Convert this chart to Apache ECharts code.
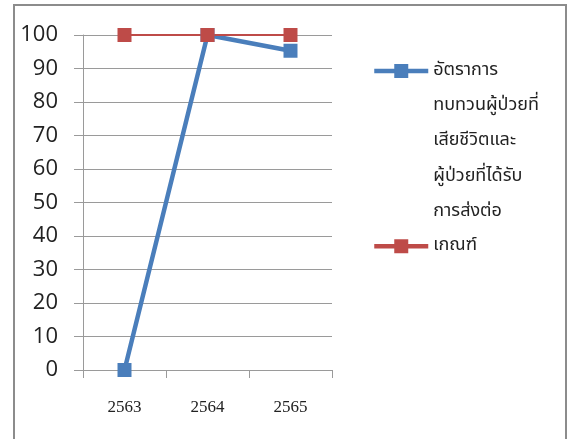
<!DOCTYPE html>
<html>
<head>
<meta charset="utf-8">
<script src="https://cdn.jsdelivr.net/npm/echarts@6/dist/echarts.min.js"></script>
<style>
  html, body { margin: 0; padding: 0; background: #fff; }
  #chart { width: 569px; height: 439px; }
</style>
</head>
<body>
<div id="chart"></div>
<script>
// Years on the category axis
const years = ['2563', '2564', '2565'];
// Review rate of deceased and referred patients (%)
const reviewRate = [0, 100, 95.3];
// Target criterion (%)
const criterion = [100, 100, 100];
// Value axis ticks
const yMin = 0, yMax = 100, yStep = 10;

const rateName = 'อัตราการทบทวนผู้ป่วยที่เสียชีวิตและผู้ป่วยที่ได้รับการส่งต่อ';
const rateLines = ['อัตราการ', 'ทบทวนผู้ป่วยที่', 'เสียชีวิตและ', 'ผู้ป่วยที่ได้รับ', 'การส่งต่อ'];
const critName = 'เกณฑ์';

const blue = '#4a7ebb';
const red = '#be4b48';
const thaiFont = "'Noto Sans Thai', 'Noto Sans', 'DejaVu Sans', sans-serif";
const lineH = 35.4;
const iconH = 17.5;

// The wrapped legend label hangs below its icon: blank lines above keep the
// first line level with the icon, since legend text is centred on it.
const padLines = rateLines.length - 1;
const rateLabel = Array(padLines).fill('\u200b').concat(rateLines).join('\n');

const chart = echarts.init(document.getElementById('chart'));
chart.setOption({
  animation: false,
  backgroundColor: '#fff',
  graphic: [{
    type: 'rect',
    shape: { x: 14, y: 5, width: 552, height: 460 },
    style: { fill: 'none', stroke: '#8c8c8c', lineWidth: 2 },
    silent: true
  }],
  grid: { left: 83, right: 237, top: 35, bottom: 69 },
  legend: [{
    orient: 'vertical',
    left: 372,
    top: 71 - (padLines + rateLines.length) * lineH / 2,
    padding: 0,
    itemWidth: 54,
    itemHeight: iconH,
    data: [{ name: rateName, lineStyle: { width: 4.5, color: blue } }],
    formatter: () => rateLabel,
    textStyle: {
      fontFamily: thaiFont, fontSize: 18, color: '#222', lineHeight: lineH
    }
  }, {
    orient: 'vertical',
    left: 372,
    top: 246 - iconH / 2,
    padding: 0,
    itemWidth: 54,
    itemHeight: iconH,
    data: [{ name: critName, lineStyle: { width: 4.5, color: red } }],
    textStyle: { fontFamily: thaiFont, fontSize: 18, color: '#222' }
  }],
  xAxis: {
    type: 'category',
    data: years,
    boundaryGap: true,
    axisLine: { lineStyle: { color: '#9a9a9a', width: 1 } },
    axisTick: { show: true, length: 8, lineStyle: { color: '#9a9a9a' } },
    axisLabel: {
      margin: 29, fontFamily: "'Liberation Serif', 'DejaVu Serif', serif",
      fontSize: 17, color: '#222'
    },
    splitLine: { show: false }
  },
  yAxis: {
    type: 'value',
    min: yMin, max: yMax, interval: yStep,
    axisLine: { show: true, lineStyle: { color: '#9a9a9a', width: 1 } },
    axisTick: { show: true, length: 9, lineStyle: { color: '#9a9a9a' } },
    axisLabel: {
      margin: 25, fontFamily: "'Open Sans', 'Liberation Sans', sans-serif",
      fontSize: 22, color: '#222'
    },
    splitLine: { show: true, lineStyle: { color: '#9a9a9a', width: 1 } }
  },
  series: [{
    name: rateName,
    type: 'line',
    data: reviewRate,
    symbol: 'rect',
    symbolSize: 14,
    lineStyle: { color: blue, width: 4.5 },
    itemStyle: { color: blue }
  }, {
    name: critName,
    type: 'line',
    data: criterion,
    symbol: 'rect',
    symbolSize: 14,
    lineStyle: { color: red, width: 2 },
    itemStyle: { color: red }
  }]
});
</script>
</body>
</html>
